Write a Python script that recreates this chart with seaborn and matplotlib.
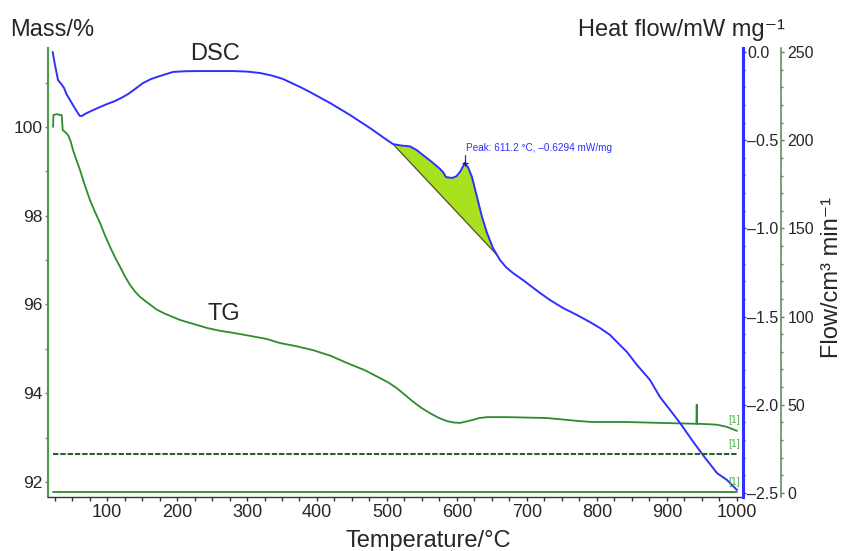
import numpy as np
import pandas as pd
import matplotlib
matplotlib.use("Agg")
import matplotlib.pyplot as plt
import seaborn as sns
from matplotlib.ticker import MultipleLocator

# ---------------- data ----------------
dsc_temp = [22.4, 25.7, 30.0, 35.7, 38.6, 42.0, 47.1, 51.5, 55.7, 59.0, 61.4, 64.5,
            68.6, 78.0, 90.0, 100.0, 111.4, 122.9, 131.0, 140.0, 151.4, 163.0,
            175.7, 194.3, 212.0, 232.9, 255.0, 280.0, 300.0, 318.6, 336.0, 351.4,
            375.7, 390.0, 418.6, 447.1, 475.7, 500.0, 508.6, 520.0, 532.9, 542.0,
            551.4, 564.3, 575.0, 580.0, 584.3, 592.9, 599.0, 604.3, 611.2, 616.0,
            621.4, 628.6, 635.7, 642.9, 651.4, 661.4, 670.0, 680.0, 694.3, 718.6,
            732.9, 751.4, 771.4, 790.0, 804.3, 818.6, 830.0, 842.9, 857.1, 875.7,
            890.0, 904.3, 918.6, 935.7, 951.4, 971.4, 985.7, 1000.0]
dsc_heat = [0.00, -0.074, -0.159, -0.187, -0.204, -0.238, -0.272, -0.302, -0.329,
            -0.350, -0.363, -0.362, -0.351, -0.333, -0.312, -0.295, -0.278, -0.255,
            -0.236, -0.210, -0.176, -0.153, -0.136, -0.113, -0.109, -0.108, -0.108,
            -0.108, -0.111, -0.119, -0.134, -0.153, -0.198, -0.227, -0.289, -0.357,
            -0.431, -0.499, -0.522, -0.530, -0.535, -0.555, -0.584, -0.624, -0.660,
            -0.680, -0.709, -0.714, -0.705, -0.680, -0.6294, -0.655, -0.709, -0.822,
            -0.935, -1.026, -1.111, -1.179, -1.220, -1.253, -1.293, -1.366, -1.406,
            -1.451, -1.491, -1.531, -1.565, -1.604, -1.650, -1.701, -1.774, -1.859,
            -1.956, -2.029, -2.103, -2.200, -2.285, -2.387, -2.426, -2.483]

tg_temp = [23.0, 23.5, 28.1, 32.9, 35.3, 36.7, 40.0, 44.3, 48.0, 51.4, 56.0, 61.4,
           68.0, 75.7, 83.0, 90.0, 97.0, 104.3, 111.5, 118.6, 125.7, 132.9, 140.0,
           147.1, 158.6, 171.4, 182.9, 204.3, 225.7, 242.9, 260.0, 280.0, 305.0,
           328.6, 347.1, 370.0, 394.3, 420.0, 442.9, 468.0, 490.0, 502.0, 514.3,
           525.0, 537.1, 549.0, 561.4, 573.0, 585.7, 595.0, 604.3, 613.0, 622.9,
           632.0, 642.9, 671.4, 700.0, 728.6, 775.7, 794.3, 842.9, 890.0, 942.0,
           942.5, 943.0, 960.0, 971.4, 985.7, 1000.0]
tg_mass = [100.00, 100.27, 100.29, 100.27, 100.27, 99.93, 99.89, 99.82, 99.68,
           99.48, 99.27, 99.03, 98.70, 98.35, 98.08, 97.84, 97.56, 97.30, 97.06,
           96.85, 96.63, 96.44, 96.29, 96.17, 96.03, 95.88, 95.79, 95.65, 95.55,
           95.47, 95.41, 95.36, 95.29, 95.22, 95.13, 95.06, 94.97, 94.84, 94.68,
           94.52, 94.34, 94.24, 94.11, 93.97, 93.81, 93.67, 93.55, 93.45, 93.37,
           93.34, 93.33, 93.36, 93.40, 93.44, 93.46, 93.46, 93.45, 93.44, 93.37,
           93.35, 93.35, 93.33, 93.31, 93.74, 93.31, 93.30, 93.29, 93.24, 93.15]

baseline_temp = [508.6, 657.0]
baseline_heat = [-0.522, -1.150]

flow_temp = [23.0, 1000.0]
purge_flow = [22.0, 22.0]
protective_flow = [0.3, 0.3]

peak_temp, peak_heat = 611.2, -0.6294
peak_label = "Peak: 611.2 °C, –0.6294 mW/mg"

mass_ticks = [92, 94, 96, 98, 100]
heat_ticks = [0.0, -0.5, -1.0, -1.5, -2.0, -2.5]
heat_labels = ["0.0", "–0.5", "–1.0", "–1.5", "–2.0", "–2.5"]
flow_ticks = [0, 50, 100, 150, 200, 250]
temp_ticks = [100, 200, 300, 400, 500, 600, 700, 800, 900, 1000]

# ---------------- style ----------------
sns.set_theme(style="white")
plt.rcParams["font.family"] = ["Liberation Sans", "DejaVu Sans"]

BLUE = "#2f2fff"
GREEN = "#2e8b2e"
SPINE_GREEN = "#4a9c4a"
FLOW_GREY = "#5f7f5f"
DARK_GREEN = "#2b5e2b"
FILL = "#a8e21e"
TAG_GREEN = "#4cb04c"

W, H = 843, 551
fig = plt.figure(figsize=(W / 100, H / 100), dpi=100)
ax = fig.add_axes([48 / W, 54 / H, 695 / W, 449 / H])
ax2 = ax.twinx()
ax3 = ax.twinx()
for a in (ax, ax2, ax3):
    a.set_facecolor("none")
    a.grid(False)

# ---------------- TG (mass) ----------------
tg_df = pd.DataFrame({"T": tg_temp, "m": tg_mass})
sns.lineplot(data=tg_df, x="T", y="m", ax=ax, color=GREEN, lw=1.3, sort=False,
             estimator=None)

# ---------------- DSC ----------------
dsc_df = pd.DataFrame({"T": dsc_temp, "h": dsc_heat})
t_arr = np.array(dsc_temp)
h_arr = np.array(dsc_heat)
mask = (t_arr >= baseline_temp[0]) & (t_arr <= baseline_temp[1])
t_fill = np.concatenate([[baseline_temp[0]], t_arr[mask], [baseline_temp[1]]])
h_fill = np.interp(t_fill, t_arr, h_arr)
b_fill = np.interp(t_fill, baseline_temp, baseline_heat)
ax2.fill_between(t_fill, h_fill, b_fill, color=FILL, lw=0, zorder=1)
ax2.plot(baseline_temp, baseline_heat, color="#50502a", lw=0.9, zorder=2)
sns.lineplot(data=dsc_df, x="T", y="h", ax=ax2, color=BLUE, lw=1.4, sort=False,
             estimator=None, zorder=3)
ax2.plot([peak_temp, peak_temp], [peak_heat - 0.012, peak_heat + 0.045],
         color="#3a3a7a", lw=0.9, zorder=4)
ax2.plot([peak_temp], [peak_heat], marker="+", color="#222", ms=4, mew=0.8, zorder=4)
ax2.text(peak_temp + 2, peak_heat + 0.068, peak_label, color=BLUE, fontsize=7.2,
         ha="left", va="baseline")

# ---------------- gas flows ----------------
ax3.plot(flow_temp, purge_flow, color=DARK_GREEN, lw=1.5, ls=(0, (2.6, 0.9)))
ax3.plot(flow_temp, protective_flow, color=GREEN, lw=1.3)

# [1] tags at curve ends
tag_kw = dict(color=TAG_GREEN, fontsize=7.5, ha="center", va="bottom",
              textcoords="offset points")
ax.annotate("[1]", (tg_temp[-1], tg_mass[-1]), xytext=(-2, 4), **tag_kw)
ax3.annotate("[1]", (flow_temp[-1], purge_flow[-1]), xytext=(-2, 4), **tag_kw)
ax3.annotate("[1]", (flow_temp[-1], protective_flow[-1]), xytext=(-2, 4), **tag_kw)

# ---------------- axes limits ----------------
ax.set_xlim(15.7, 1008.6)
ax.set_ylim(91.66, 101.78)
ax2.set_ylim(-2.5227, 0.0227)
ax3.set_ylim(-2.3, 252.3)

# ---------------- spines ----------------
for s in ("top", "right"):
    ax.spines[s].set_visible(False)
ax.spines["left"].set_color(SPINE_GREEN)
ax.spines["left"].set_linewidth(1.5)
ax.spines["bottom"].set_color("#333333")
ax.spines["bottom"].set_linewidth(1.0)

for s in ("top", "left", "bottom"):
    ax2.spines[s].set_visible(False)
    ax3.spines[s].set_visible(False)
ax2.spines["right"].set_color(BLUE)
ax2.spines["right"].set_linewidth(2.2)
ax3.spines["right"].set_position(("outward", 27.4))
ax3.spines["right"].set_color(FLOW_GREY)
ax3.spines["right"].set_linewidth(1.1)

# ---------------- ticks ----------------
ax.set_xticks(temp_ticks)
ax.set_xticklabels([str(t) for t in temp_ticks])
ax.xaxis.set_minor_locator(MultipleLocator(25))
ax.tick_params(axis="x", which="both", direction="out", length=3, width=1,
               color="#333333", labelsize=13, pad=2, bottom=True)

ax.set_yticks(mass_ticks)
ax.set_yticklabels([str(t) for t in mass_ticks])
ax.yaxis.set_minor_locator(MultipleLocator(1))
ax.tick_params(axis="y", which="both", direction="out", length=2, width=1,
               color=SPINE_GREEN, labelsize=12.5, pad=2, left=True)

ax2.set_yticks(heat_ticks)
ax2.set_yticklabels(heat_labels)
ax2.yaxis.set_minor_locator(MultipleLocator(0.1))
ax2.tick_params(axis="y", which="major", direction="out", length=2.5, width=1,
                color=BLUE, labelsize=11.5, pad=0.5, right=True)
ax2.tick_params(axis="y", which="minor", direction="out", length=1.5, width=1,
                color=BLUE, right=True)

ax3.set_yticks(flow_ticks)
ax3.set_yticklabels([str(t) for t in flow_ticks])
ax3.yaxis.set_minor_locator(MultipleLocator(10))
ax3.tick_params(axis="y", which="major", direction="out", length=2, width=1,
                color=FLOW_GREY, labelsize=11.5, pad=2.5, right=True)
ax3.tick_params(axis="y", which="minor", direction="out", length=1.5, width=1,
                color=FLOW_GREY, right=True)

for a in (ax, ax2, ax3):
    a.set_xlabel("")
    a.set_ylabel("")

# ---------------- titles / labels ----------------
fs = 17
fig.text(10 / W, 1 - 36 / H, "Mass/%", fontsize=fs, ha="left", va="baseline")
fig.text(785 / W, 1 - 36 / H, "Heat flow/mW mg⁻¹", fontsize=fs, ha="right",
         va="baseline")
fig.text(428 / W, 1 - 547 / H, "Temperature/°C", fontsize=fs, ha="center",
         va="baseline")
fig.text(843 / W, 1 - 277 / H, "Flow/cm³ min⁻¹", fontsize=fs, ha="right",
         va="center", rotation=90)
fig.text(215 / W, 1 - 60 / H, "DSC", fontsize=fs, ha="center", va="baseline")
fig.text(224 / W, 1 - 320 / H, "TG", fontsize=fs, ha="center", va="baseline")

fig.savefig("out.png", dpi=100)
